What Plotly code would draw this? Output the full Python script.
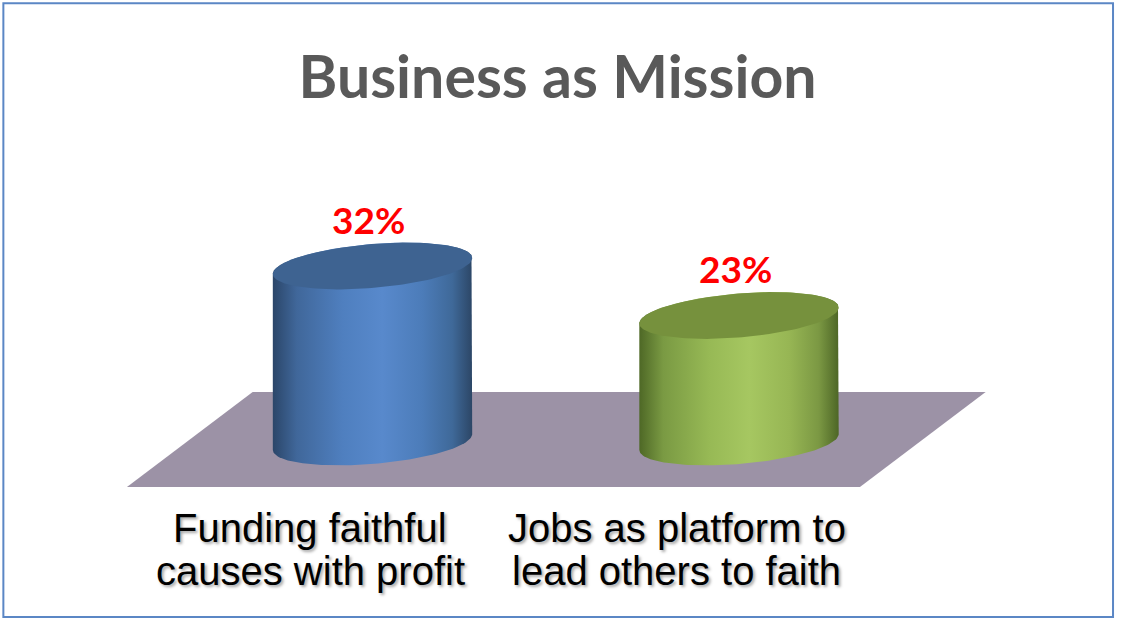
import numpy as np
import plotly.graph_objects as go

# data
categories = ["Funding faithful\ncauses with profit", "Jobs as platform to\nlead others to faith"]
values = [32, 23]
value_labels = ["32%", "23%"]

# colours per series point
top_colors = ["#3e6391", "#76913d"]
body_scales = [
    [[0, "#2b4669"], [0.12, "#40679a"], [0.35, "#4f7fbf"], [0.55, "#5889cc"],
     [0.75, "#4c7cb9"], [0.9, "#3f6999"], [1, "#2c4666"]],
    [[0, "#4e6826"], [0.12, "#7a9a43"], [0.35, "#97b955"], [0.55, "#a6c761"],
     [0.75, "#97b654"], [0.9, "#7b9843"], [1, "#4d6626"]],
]

# cylinder / floor geometry (axis units)
R = 0.272        # cylinder radius along x
B = 4.0          # ellipse half height along y
TILT = 1.45      # rise of the ellipse at its right edge
FLOOR_FRONT = -8.2
FLOOR_BACK = 9.1
FLOOR_SHIFT = 0.343
LABEL_SHIFT = -0.17
LABEL_LINES_Y = [-15.6, -23.4]

fig = go.Figure()

# floor
n = len(values)
fx0, fx1 = LABEL_SHIFT - 0.5, LABEL_SHIFT + n - 0.5
fig.add_trace(go.Scatter(
    x=[fx0, fx1, fx1 + FLOOR_SHIFT, fx0 + FLOOR_SHIFT, fx0],
    y=[FLOOR_FRONT, FLOOR_FRONT, FLOOR_BACK, FLOOR_BACK, FLOOR_FRONT],
    mode="lines", fill="toself", fillcolor="#9c92a6", line=dict(width=0),
    hoverinfo="skip", showlegend=False))

front = np.linspace(np.pi, 2 * np.pi, 80)
back = np.linspace(0, np.pi, 80)
full = np.linspace(0, 2 * np.pi, 160)

for i, v in enumerate(values):
    # body
    bx = np.concatenate([i + R * np.cos(front), i + R * np.cos(back)])
    by = np.concatenate([B * np.sin(front) + TILT * np.cos(front),
                         v + B * np.sin(back) + TILT * np.cos(back)])
    fig.add_trace(go.Scatter(
        x=bx, y=by, mode="lines", fill="toself", line=dict(width=0),
        fillgradient=dict(type="horizontal", colorscale=body_scales[i]),
        hoverinfo="skip", showlegend=False))
    # top face
    fig.add_trace(go.Scatter(
        x=i + R * np.cos(full), y=v + B * np.sin(full) + TILT * np.cos(full),
        mode="lines", fill="toself", fillcolor=top_colors[i], line=dict(width=0),
        hoverinfo="skip", showlegend=False))
    # value label
    fig.add_annotation(x=i - 0.01, y=v + 8.5, text=value_labels[i], showarrow=False,
                       font=dict(family="Lato", size=37, color="#ff0000", weight="bold"),
                       yanchor="middle")
    # category label, one annotation per line to keep the tight line spacing
    for line, ly in zip(categories[i].split("\n"), LABEL_LINES_Y):
        fig.add_annotation(x=i + LABEL_SHIFT, y=ly, text=line, showarrow=False,
                           font=dict(family="Liberation Sans, Arial", size=40, color="#000000",
                                     shadow="2px 2px 3px rgba(0,0,0,0.35)"),
                           yanchor="middle")

fig.update_layout(
    width=1122, height=627,
    margin=dict(l=0, r=0, t=0, b=0),
    paper_bgcolor="white", plot_bgcolor="white",
    title=dict(text="Business as Mission", x=0.497, xanchor="center", y=0.876, yanchor="middle",
               font=dict(family="Lato", size=59, color="#595959", weight="bold")),
    xaxis=dict(range=[-1.0164, 2.045], visible=False, fixedrange=True),
    yaxis=dict(range=[-33.64, 80.36], visible=False, fixedrange=True),
    shapes=[dict(type="rect", xref="paper", yref="paper", x0=0.003, x1=0.992,
                 y0=0.016, y1=0.995, line=dict(color="#5b87c5", width=2))],
)

fig.write_html("out.html", config={"displayModeBar": False},
               post_script="document.body.style.margin='0';")
